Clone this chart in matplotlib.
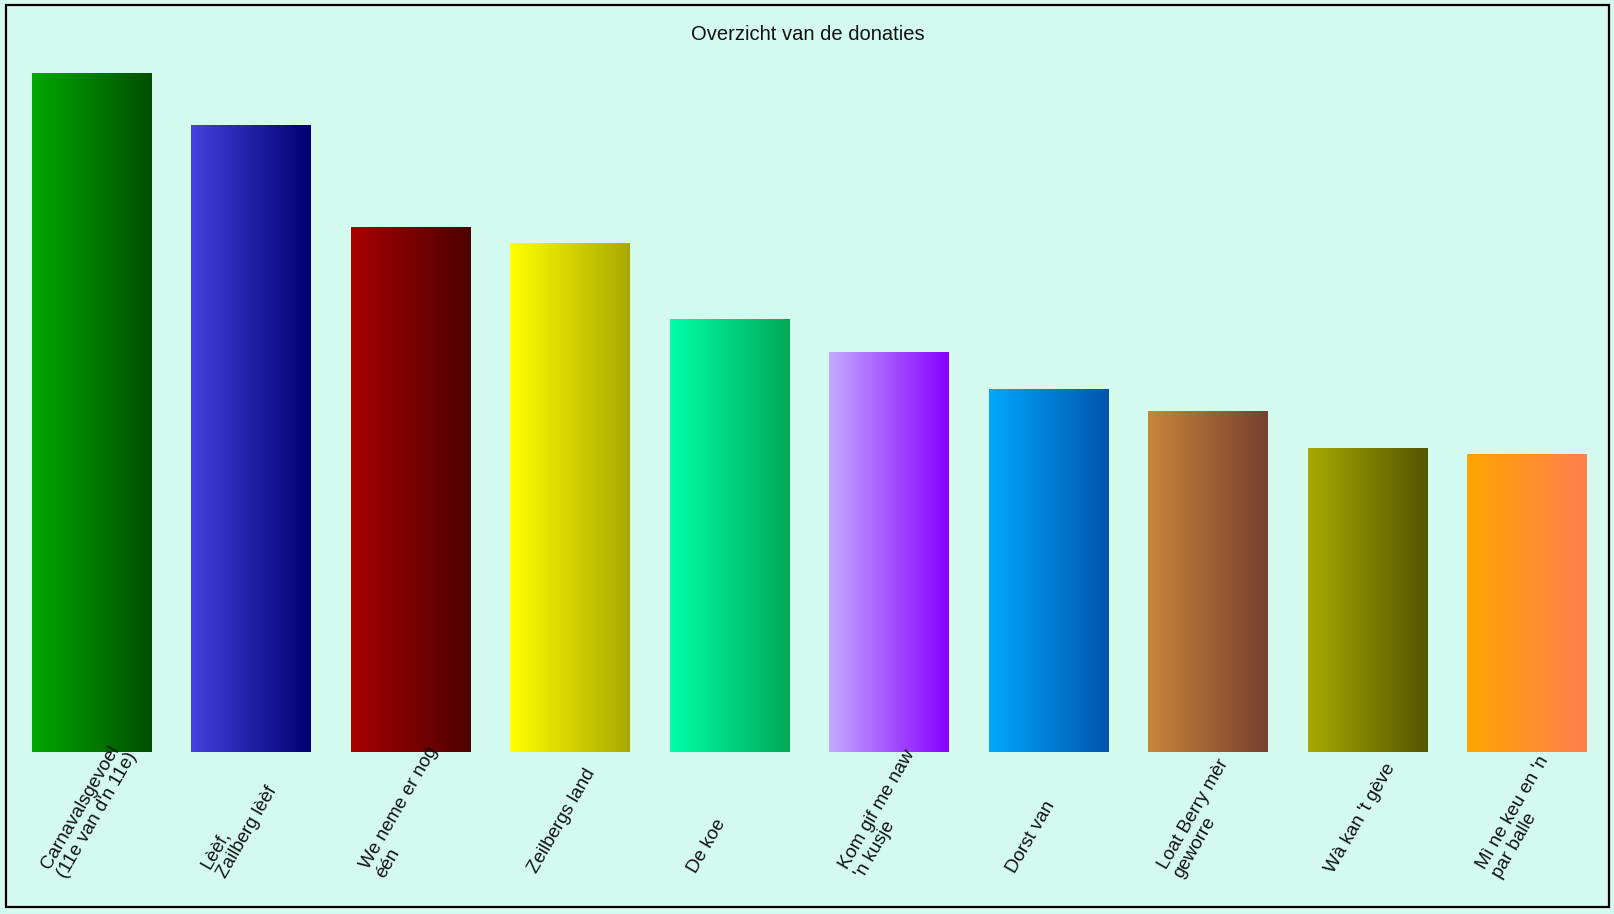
"""
Overzicht van de donaties - staafdiagram met kleurverloop per staaf
"""

import numpy as np
import matplotlib
matplotlib.use("Agg")
import matplotlib.pyplot as plt
from matplotlib.colors import LinearSegmentedColormap
from matplotlib.patches import Rectangle

plt.rcParams['font.family'] = ['Liberation Sans', 'DejaVu Sans']

# data
namen = [
    "Carnavalsgevoel\n(11e van d'n 11e)",
    "Lèèf,\nZailberg lèèf",
    "We neme er nog\néén",
    "Zeilbergs land",
    "De koe",
    "Kom gif me naw\n'n kusje",
    "Dorst van",
    "Loat Berry mèr\ngeworre",
    "Wà kan 't gève",
    "Mì ne keu en 'n\npar balle",
]
donaties = [679, 627, 525, 509, 433, 400, 363, 341, 304, 298]

kleur_links = ['#00a800', '#4242e0', '#a80000', '#ffff00', '#00ffaa',
               '#c4aaff', '#00a8ff', '#c8863a', '#a8a800', '#ffa500']
kleur_rechts = ['#004f00', '#000070', '#4d0000', '#a8a800', '#00a855',
                '#8800ff', '#0055aa', '#774030', '#555500', '#ff7f50']

achtergrond = '#d4faf0'

fig = plt.figure(figsize=(16.15, 9.14), dpi=100, facecolor=achtergrond)

# assen precies rond de staven
W, H = 1615, 914
links, rechts, boven, onder = 32, 1587, 73, 752
ax = fig.add_axes([links / W, 1 - onder / H, (rechts - links) / W, (onder - boven) / H])
ax.set_facecolor('none')
for s in ax.spines.values():
    s.set_visible(False)
ax.set_xticks([])
ax.set_yticks([])

breedte = 0.75
x = np.arange(len(donaties))
staven = ax.bar(x, donaties, width=breedte, color='none', edgecolor='none')
ax.set_xlim(-breedte / 2, len(donaties) - 1 + breedte / 2)
ax.set_ylim(0, max(donaties))

verloop = np.linspace(0, 1, 256).reshape(1, -1)
for staaf, kl, kr in zip(staven, kleur_links, kleur_rechts):
    bx, by = staaf.get_x(), staaf.get_y()
    bw, bh = staaf.get_width(), staaf.get_height()
    cmap = LinearSegmentedColormap.from_list('v', [kl, kr])
    im = ax.imshow(verloop, cmap=cmap, aspect='auto',
                   extent=(bx, bx + bw, by, by + bh), interpolation='bilinear')
    im.set_clip_path(staaf)

# labels onder de staven, schuin
stap = (rechts - links) / (len(donaties) - 1 + breedte)
dx = -38 / stap
dy = -(872 - onder) / (onder - boven)
for i, naam in enumerate(namen):
    ax.text(i + dx, dy, naam, transform=ax.get_xaxis_transform(),
            rotation=60, rotation_mode='anchor', ha='left', va='center',
            multialignment='left', fontsize=13.5, color='#111111',
            linespacing=1.1, clip_on=False)

fig.text(0.5, 1 - 35 / H, "Overzicht van de donaties", ha='center', va='center',
         fontsize=14.5, color='#111111')

# rand om de hele grafiek
rand = Rectangle((6 / W, 1 - 907 / H), (1609 - 6) / W, (907 - 5) / H,
                 transform=fig.transFigure, fill=False, edgecolor='black',
                 linewidth=1.6)
fig.patches.append(rand)

fig.savefig('out.png', dpi=100, facecolor=achtergrond)
